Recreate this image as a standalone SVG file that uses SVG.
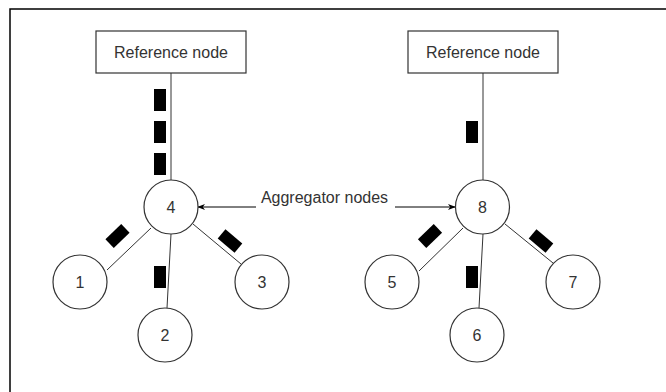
<svg xmlns="http://www.w3.org/2000/svg" width="666" height="392" viewBox="0 0 666 392">
<defs>
<style>
.box{fill:#fff;stroke:#333;stroke-width:1.2}
.node{fill:#fff;stroke:#333;stroke-width:1.2}
.edge{stroke:#333;stroke-width:1;fill:none}
.lbl{fill:#000}
text{font-family:"Liberation Sans",Arial,sans-serif;font-size:16px;fill:#333;text-anchor:middle}
</style>
<marker id="arr" viewBox="0 0 10 10" refX="9" refY="5" markerWidth="8" markerHeight="8" markerUnits="userSpaceOnUse" orient="auto">
<path d="M0,1 L10,5 L0,9 L3,5 Z" fill="#000"/>
</marker>
<rect id="dash" x="-6" y="-11" width="12" height="22"/>
</defs>
<rect x="10" y="9" width="700" height="420" fill="#fff" stroke="#000" stroke-width="1.5"/>
<g id="connectors">
<line class="edge" x1="171" y1="73" x2="171" y2="180"/>
<line class="edge" x1="151" y1="228" x2="107" y2="270"/>
<line class="edge" x1="171" y1="234" x2="167" y2="308"/>
<line class="edge" x1="193" y1="224" x2="241" y2="264"/>
<line class="edge" x1="483" y1="73" x2="483" y2="180"/>
<line class="edge" x1="463" y1="228" x2="419" y2="271"/>
<line class="edge" x1="483" y1="234" x2="479" y2="308"/>
<line class="edge" x1="505" y1="224" x2="553" y2="263"/>
<line stroke="#000" stroke-width="1" x1="256" y1="207" x2="198" y2="207" marker-end="url(#arr)"/>
<line stroke="#000" stroke-width="1" x1="395" y1="207" x2="455" y2="207" marker-end="url(#arr)"/>
<g class="lbl">
<rect x="154" y="89" width="12" height="22"/>
<rect x="154" y="121" width="12" height="22"/>
<rect x="154" y="153" width="12" height="22"/>
<use href="#dash" transform="translate(117.5,236) rotate(46)"/>
<rect x="154" y="266" width="12" height="22"/>
<use href="#dash" transform="translate(230,241) rotate(-50)"/>
<rect x="466" y="121" width="12" height="22"/>
<use href="#dash" transform="translate(430,236) rotate(46)"/>
<rect x="466" y="266" width="12" height="22"/>
<use href="#dash" transform="translate(541,241) rotate(-50)"/>
</g>
</g>
<g id="ref1"><rect class="box" x="96" y="31" width="150" height="42"/><text x="171" y="58">Reference node</text></g>
<g id="ref2"><rect class="box" x="408" y="31" width="150" height="42"/><text x="483" y="58">Reference node</text></g>
<g id="label"><text x="324.5" y="203">Aggregator nodes</text></g>
<g id="n4"><circle class="node" cx="171" cy="207" r="27"/><text x="171" y="213">4</text></g>
<g id="n1"><circle class="node" cx="80" cy="282" r="27"/><text x="80" y="288">1</text></g>
<g id="n2"><circle class="node" cx="165" cy="335" r="27"/><text x="165" y="341">2</text></g>
<g id="n3"><circle class="node" cx="262" cy="282" r="27"/><text x="262" y="288">3</text></g>
<g id="n8"><circle class="node" cx="482.5" cy="207" r="27"/><text x="482.5" y="213">8</text></g>
<g id="n5"><circle class="node" cx="392" cy="282" r="27"/><text x="392" y="288">5</text></g>
<g id="n6"><circle class="node" cx="477" cy="335" r="27"/><text x="477" y="341">6</text></g>
<g id="n7"><circle class="node" cx="573" cy="282" r="27"/><text x="573" y="288">7</text></g>
</svg>
